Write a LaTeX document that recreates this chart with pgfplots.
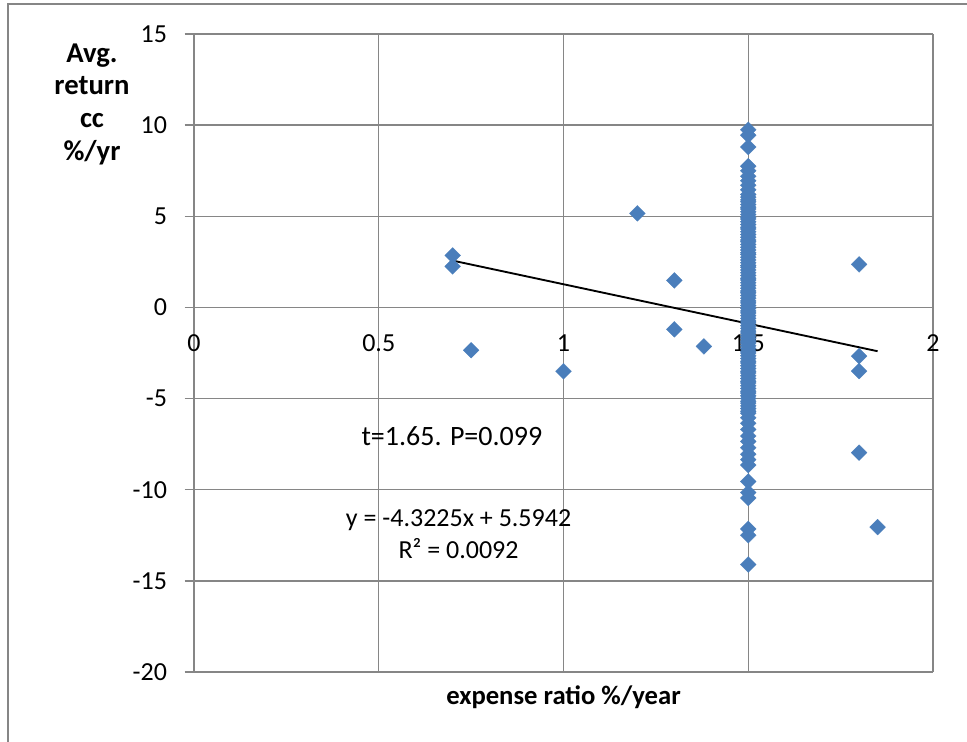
\documentclass[border=0pt]{standalone}
\usepackage{pgfplots}
\pgfplotsset{compat=1.18}
\usepackage{pgfplotstable}
\usepackage{fontspec}
\setmainfont{Carlito}
\definecolor{axgray}{RGB}{134,134,134}
\definecolor{mblue}{RGB}{74,126,187}
\pgfplotstableread{
x y
0.70 2.85
0.70 2.25
0.75 -2.35
1.00 -3.50
1.20 5.16
1.30 1.48
1.30 -1.20
1.38 -2.14
1.80 2.36
1.80 -2.67
1.80 -3.49
1.80 -7.97
1.85 -12.05
1.5 9.75
1.5 9.45
1.5 8.80
1.5 7.75
1.5 7.50
1.5 7.20
1.5 6.95
1.5 6.70
1.5 6.45
1.5 6.20
1.5 6.05
1.5 5.90
1.5 5.80
1.5 5.65
1.5 5.50
1.5 5.40
1.5 5.25
1.5 5.10
1.5 4.95
1.5 4.85
1.5 4.70
1.5 4.55
1.5 4.40
1.5 4.30
1.5 4.15
1.5 4.00
1.5 3.85
1.5 3.70
1.5 3.60
1.5 3.45
1.5 3.30
1.5 3.15
1.5 3.00
1.5 2.90
1.5 2.75
1.5 2.60
1.5 2.45
1.5 2.30
1.5 2.20
1.5 2.05
1.5 1.90
1.5 1.75
1.5 1.60
1.5 1.50
1.5 1.35
1.5 1.20
1.5 1.05
1.5 0.90
1.5 0.80
1.5 0.65
1.5 0.50
1.5 0.35
1.5 0.25
1.5 0.10
1.5 -0.05
1.5 -0.20
1.5 -0.30
1.5 -0.45
1.5 -0.60
1.5 -0.75
1.5 -0.85
1.5 -1.00
1.5 -1.15
1.5 -1.30
1.5 -1.40
1.5 -1.55
1.5 -1.70
1.5 -1.85
1.5 -1.95
1.5 -2.10
1.5 -2.25
1.5 -2.40
1.5 -2.50
1.5 -2.65
1.5 -2.80
1.5 -2.95
1.5 -3.05
1.5 -3.20
1.5 -3.35
1.5 -3.50
1.5 -3.60
1.5 -3.75
1.5 -3.90
1.5 -4.05
1.5 -4.15
1.5 -4.30
1.5 -4.45
1.5 -4.60
1.5 -4.70
1.5 -4.85
1.5 -5.00
1.5 -5.15
1.5 -5.25
1.5 -5.40
1.5 -5.55
1.5 -5.70
1.5 -5.80
1.5 -6.05
1.5 -6.35
1.5 -6.70
1.5 -7.05
1.5 -7.35
1.5 -7.70
1.5 -8.05
1.5 -8.35
1.5 -8.65
1.5 -9.55
1.5 -10.15
1.5 -10.45
1.5 -12.15
1.5 -12.50
1.5 -14.10
}\datatable
\begin{document}
\fontsize{19bp}{23bp}\selectfont
\begin{tikzpicture}
\useasboundingbox (-145.5bp,-52.5bp) rectangle (579.75bp,504bp);
\draw[color=axgray, line width=1.5bp] (-139.5bp,-60bp) -- (-139.5bp,501bp) -- (600bp,501bp);
\begin{axis}[
 at={(0,0)}, anchor=south west,
 scale only axis, width=554.25bp, height=478.5bp,
 xmin=0, xmax=2, ymin=-20, ymax=15,
 axis x line=middle, axis y line=left,
 axis line style={-, draw=axgray, line width=1.1bp},
 xtick={0,0.5,1,1.5,2}, ytick={-20,-15,...,15},
 grid=major, major grid style={draw=axgray, line width=1.1bp},
 tick align=outside, major tick length=7bp,
 tick style={draw=axgray, line width=1.1bp},
 hide obscured x ticks=false, hide obscured y ticks=false,
 /pgf/number format/assume math mode=true,
 ticklabel style={font=\fontsize{19.5bp}{23bp}\selectfont},
 xticklabel style={anchor=center, inner sep=0pt, yshift=-20bp},
 yticklabel style={anchor=east, inner sep=0pt, xshift=-13bp},
 ylabel={Avg.\\return\\cc\\\%/yr},
 xlabel={expense ratio \%/year},
 every axis y label/.style={at={(rel axis cs:0,1)}, anchor=center, xshift=-76.5bp, yshift=-52.5bp, align=center, font=\bfseries\fontsize{21.5bp}{24.5bp}\selectfont},
 every axis x label/.style={at={(rel axis cs:0.5,0)}, anchor=center, yshift=-18.75bp, font=\bfseries\fontsize{20bp}{23bp}\selectfont},
 clip=false,
]
\addplot[black, line width=1.4bp, mark=none] coordinates {(0.7,2.5685) (1.85,-2.4024)};
\addplot[only marks, mark=square*, mark size=4.2bp, color=mblue, mark options={rotate=45, fill=mblue, draw=mblue, line width=0.2bp}] table[x=x, y=y] {\datatable};
\node[font=\fontsize{21bp}{23bp}\selectfont] at (axis cs:0.698,-7.05) {t=1.65. P=0.099};
\node[align=center, font=\fontsize{19.5bp}{24bp}\selectfont] at (axis cs:0.716,-12.45) {y = -4.3225x + 5.5942\\R² = 0.0092};
\end{axis}
\end{tikzpicture}
\end{document}
